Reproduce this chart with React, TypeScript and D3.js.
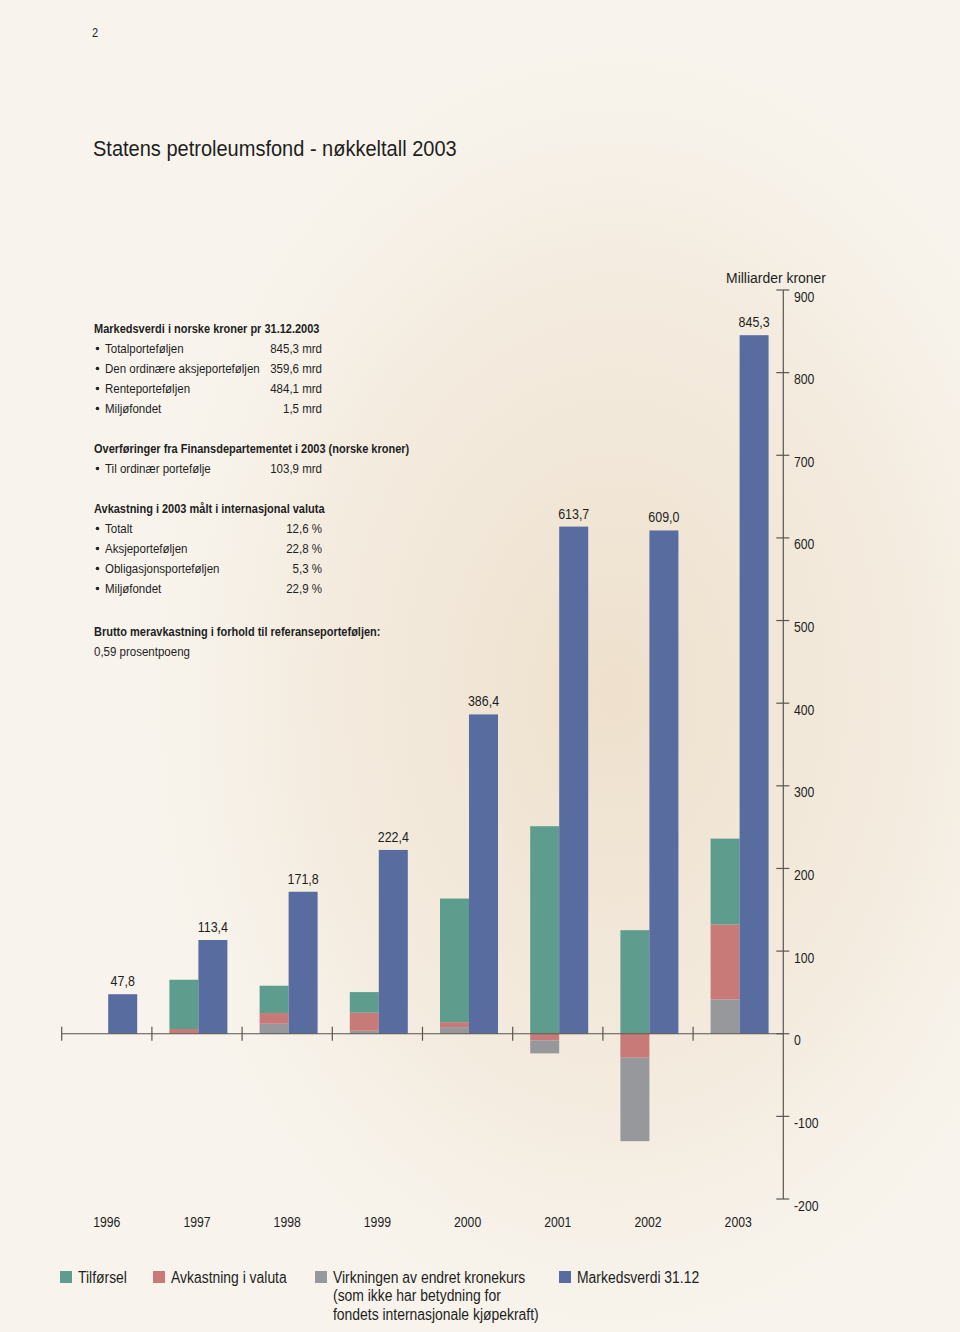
import React from 'react';
import * as d3 from 'd3';

const years = ['1996', '1997', '1998', '1999', '2000', '2001', '2002', '2003'];
const markedsverdi = [47.8, 113.4, 171.8, 222.4, 386.4, 613.7, 609.0, 845.3];
const tilforsel = [0, 59.6, 33.1, 25.0, 149.6, 251.1, 125.3, 103.9];
const avkastning = [0, 5.7, 12.9, 21.8, 6.0, -8.1, -29.0, 90.7];
const kronekurs = [0, 0, 12.1, 3.6, 8.0, -15.7, -101.0, 41.5];
const yTicks = [900, 800, 700, 600, 500, 400, 300, 200, 100, 0, -100, -200];

const infoBlocks = [
  { title: 'Markedsverdi i norske kroner pr 31.12.2003', rows: [
    ['Totalporteføljen', '845,3 mrd'],
    ['Den ordinære aksjeporteføljen', '359,6 mrd'],
    ['Renteporteføljen', '484,1 mrd'],
    ['Miljøfondet', '1,5 mrd'],
  ] },
  { title: 'Overføringer fra Finansdepartementet i 2003 (norske kroner)', rows: [
    ['Til ordinær portefølje', '103,9 mrd'],
  ] },
  { title: 'Avkastning i 2003 målt i internasjonal valuta', rows: [
    ['Totalt', '12,6 %'],
    ['Aksjeporteføljen', '22,8 %'],
    ['Obligasjonsporteføljen', '5,3 %'],
    ['Miljøfondet', '22,9 %'],
  ] },
];

const COLORS: Record<string, string> = { tilforsel: '#5e9c8d', avkastning: '#c77a77', kronekurs: '#97989c', markedsverdi: '#586ca0' };
const FONT = '"Liberation Sans", Arial, sans-serif';

const legendItems = [
  { key: 'tilforsel', lines: ['Tilførsel'] },
  { key: 'avkastning', lines: ['Avkastning i valuta'] },
  { key: 'kronekurs', lines: ['Virkningen av endret kronekurs', '(som ikke har betydning for', 'fondets internasjonale kjøpekraft)'] },
  { key: 'markedsverdi', lines: ['Markedsverdi 31.12'] },
];
const legendX = [60, 153, 315, 559];

const fmt = (v: number) => v.toFixed(1).replace('.', ',');

function T(props: { x: number; y: number; size: number; sx?: number; anchor?: string; bold?: boolean; children: React.ReactNode }) {
  const { x, y, size, sx = 0.88, anchor, bold, children } = props;
  return (
    <text transform={`translate(${x},${y}) scale(${sx},1)`} fontSize={size} textAnchor={anchor as any}
      fontWeight={bold ? 'bold' : undefined} fill="#1e1e1e">{children}</text>
  );
}

export default function App() {
  const W = 960, H = 1332;
  const y = d3.scaleLinear().domain([-200, 900]).range([1199, 290]);
  const x = d3.scaleBand<string>().domain(years).range([61.7, 783.3]).padding(0);
  const sub = d3.scaleBand<string>().domain(['flow', 'mv']).range([17.5, 75.5]).padding(0);

  const segs: { x: number; y0: number; y1: number; color: string; key: string }[] = [];
  years.forEach((yr, i) => {
    const vals: Record<string, number> = { tilforsel: tilforsel[i], avkastning: avkastning[i], kronekurs: kronekurs[i] };
    let pos = 0;
    ['kronekurs', 'avkastning', 'tilforsel'].forEach(k => {
      const v = vals[k];
      if (v > 0) { segs.push({ x: x(yr)! + sub('flow')!, y0: pos, y1: pos + v, color: COLORS[k], key: yr + k }); pos += v; }
    });
    let neg = 0;
    ['avkastning', 'kronekurs', 'tilforsel'].forEach(k => {
      const v = vals[k];
      if (v < 0) { segs.push({ x: x(yr)! + sub('flow')!, y0: neg + v, y1: neg, color: COLORS[k], key: yr + k }); neg += v; }
    });
  });

  const axisX = 783.3;
  const bw = sub.bandwidth();

  let rowY = 328;
  const infoEls: React.ReactNode[] = [];
  infoBlocks.forEach((b, bi) => {
    infoEls.push(<T key={'t' + bi} x={94} y={rowY + 4.5} size={12.5} bold>{b.title}</T>);
    b.rows.forEach((r, ri) => {
      const yy = rowY + 20 * (ri + 1) + 4.5;
      infoEls.push(<g key={'r' + bi + '-' + ri}>
        <circle cx={97.5} cy={yy - 4} r={1.8} fill="#222" />
        <T x={105} y={yy} size={12.8} sx={0.9}>{r[0]}</T>
        <T x={322} y={yy} size={12.8} sx={0.9} anchor="end">{r[1]}</T>
      </g>);
    });
    rowY += 20 * (b.rows.length + 2);
  });

  return (
    <svg width={W} height={H} style={{ position: 'absolute', left: 0, top: 0 }} fontFamily={FONT}>
      <defs>
        <radialGradient id="bg" cx="0.64" cy="0.52" r="0.55">
          <stop offset="0" stopColor="#ecdcc6" stopOpacity={0.85} />
          <stop offset="0.6" stopColor="#f0e4d3" stopOpacity={0.5} />
          <stop offset="1" stopColor="#f8f4ed" stopOpacity={0} />
        </radialGradient>
      </defs>
      <rect width={W} height={H} fill="#f8f4ed" />
      <rect width={W} height={H} fill="url(#bg)" />

      <T x={92} y={37} size={12.5}>2</T>
      <T x={93} y={156} size={22.5} sx={0.89}>Statens petroleumsfond - nøkkeltall 2003</T>

      {infoEls}
      <T x={94} y={635.5} size={12.5} bold>Brutto meravkastning i forhold til referanseporteføljen:</T>
      <T x={94} y={655.5} size={12.8} sx={0.9}>0,59 prosentpoeng</T>

      {/* stacked flow bars */}
      {segs.map(s => (
        <rect key={s.key} x={s.x} width={bw} y={y(s.y1)} height={y(s.y0) - y(s.y1)} fill={s.color} />
      ))}
      {/* market value bars */}
      {years.map((yr, i) => (
        <g key={'mv' + yr}>
          <rect x={x(yr)! + sub('mv')!} width={bw} y={y(markedsverdi[i])} height={y(0) - y(markedsverdi[i])} fill={COLORS.markedsverdi} />
          <T x={x(yr)! + sub('mv')! + bw / 2} y={y(markedsverdi[i]) - 8} anchor="middle" size={15} sx={0.83}>{fmt(markedsverdi[i])}</T>
        </g>
      ))}

      {/* x axis */}
      <line x1={61} x2={axisX} y1={y(0)} y2={y(0)} stroke="#5a5550" strokeWidth={1.2} />
      {years.map(yr => (
        <line key={'xt' + yr} x1={x(yr)!} x2={x(yr)!} y1={y(0) - 7} y2={y(0) + 7} stroke="#5a5550" strokeWidth={1.2} />
      ))}
      {years.map(yr => (
        <T key={'xl' + yr} x={x(yr)! + x.bandwidth() / 2} y={1227} anchor="middle" size={15.5} sx={0.79}>{yr}</T>
      ))}

      {/* y axis */}
      <line x1={axisX} x2={axisX} y1={y(900)} y2={y(-200)} stroke="#5a5550" strokeWidth={1.2} />
      {yTicks.map(t => (
        <g key={'yt' + t}>
          <line x1={axisX - 7} x2={axisX + 6} y1={y(t)} y2={y(t)} stroke="#5a5550" strokeWidth={1.2} />
          <T x={794} y={y(t) + 11.5} size={15.5} sx={0.79}>{t < 0 ? '-' + Math.abs(t) : String(t)}</T>
        </g>
      ))}
      <T x={776} y={283} anchor="middle" size={15.5} sx={0.9}>Milliarder kroner</T>

      {/* legend */}
      {legendItems.map((it, i) => (
        <g key={'lg' + it.key}>
          <rect x={legendX[i]} y={1271} width={12} height={12} fill={COLORS[it.key]} />
          {it.lines.map((ln, li) => (
            <T key={li} x={legendX[i] + 18} y={1282.5 + li * 18.5} size={16} sx={0.87}>{ln}</T>
          ))}
        </g>
      ))}
    </svg>
  );
}
